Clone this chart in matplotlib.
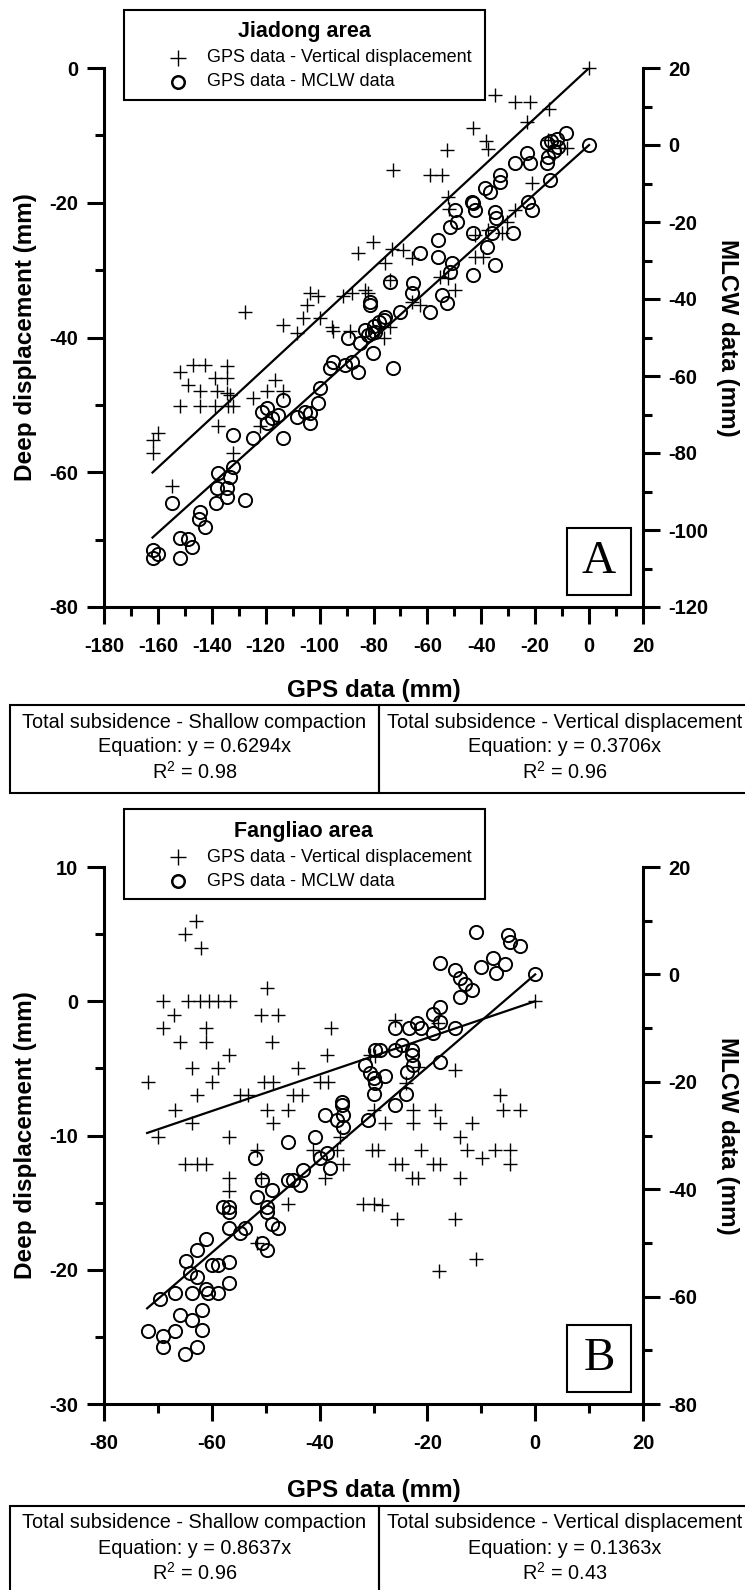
import matplotlib
matplotlib.use('Agg')
import matplotlib.pyplot as plt
from matplotlib.patches import Rectangle
from matplotlib.lines import Line2D
from matplotlib.ticker import MultipleLocator

plt.rcParams['font.family'] = ['Liberation Sans', 'DejaVu Sans']
plt.rcParams['mathtext.fontset'] = 'custom'
plt.rcParams['mathtext.rm'] = 'Liberation Sans'
plt.rcParams['mathtext.default'] = 'regular'
plt.rcParams['axes.unicode_minus'] = False

#########################################################
# Jiadong area

jd_vert_x = [0, -34.9, -27.5, -21.9, -14.8, -23.2, -43.0, -38.3, -37.6, -52.6,
             -72.9, -59.0, -54.7, -52.2, -51.9, -21.3, -15.1, -10.8, -8.3, -27.5,
             -30.6, -32.5, -37.4, -42.3, -42.3, -39.3, -80.1, -73.3, -68.9, -85.6,
             -65.8, -75.7, -55.3, -52.2, -49.8, -83.2, -81.9, -65.8, -62.7, -73.9,
             -103.6, -100.5, -88.1, -91.2, -73.9, -76.0,
             -127.7, -104.8, -106.0, -113.5, -108.5, -99.9, -95.5, -94.9, -88.7,
             -151.8, -146.9, -142.5, -148.7, -144.4, -151.8, -144.4, -138.8, -134.5,
             -134.5, -138.2, -134.5, -133.2, -138.8, -133.9, -132.0, -137.6, -124.6,
             -119.6, -116.6, -113.5, -122.1, -159.9, -161.7, -161.7, -154.9, -132.0]
jd_vert_y = [0, -4.0, -5.0, -5.0, -6.1, -8.0, -8.9, -10.9, -12.0, -12.2,
             -15.1, -15.9, -15.9, -19.1, -21.0, -17.1, -10.7, -11.9, -11.9, -21.1,
             -22.8, -24.5, -24.0, -24.8, -28.0, -28.0, -25.8, -26.8, -27.0, -27.5,
             -28.2, -29.0, -31.0, -31.2, -32.9, -32.9, -33.4, -34.7, -35.2, -31.5,
             -33.4, -33.9, -33.4, -33.9, -38.4, -40.0,
             -36.2, -35.2, -37.1, -38.1, -39.4, -37.1, -38.4, -39.1, -39.1,
             -45.1, -44.1, -44.1, -47.0, -48.0, -50.1, -50.1, -46.0, -44.3,
             -46.0, -48.0, -48.3, -48.5, -50.1, -50.1, -50.1, -53.1, -49.0,
             -48.0, -46.3, -48.0, -53.2, -54.2, -55.2, -57.2, -62.1, -57.2]

jd_mclw_x = [0, -8.6, -12.0, -15.8, -11.4, -14.0, -13.0, -15.1, -15.8, -14.5,
             -23.2, -27.5, -21.9, -33.1, -33.1, -38.6, -36.8, -43.6, -42.3, -34.9,
             -34.5, -49.8, -49.2, -51.6, -56.0, -43.0, -36.2, -38.0, -28.1, -22.5,
             -21.3, -62.7, -56.0, -51.0, -51.6, -34.9, -43.0, -73.9, -65.2, -65.8,
             -54.7, -52.9, -59.0, -70.2, -81.3, -75.7, -43.0,
             -80.1, -72.7, -83.0, -80.0, -78.0, -76.0,
             -161.7, -159.9, -161.7, -151.8, -151.8, -148.7, -147.5, -144.4, -144.6,
             -142.5, -154.9, -138.5, -138.2, -137.6, -134.5, -134.5, -133.2, -132.0,
             -127.7, -132.0, -124.6, -121.5, -119.6, -119.6, -117.8, -115.3, -113.5,
             -113.5, -108.5, -105.4, -103.6, -103.6, -100.5, -99.9, -96.1, -94.9,
             -90.6, -88.1, -85.6, -89.4, -85.0, -81.9, -80.7, -79.4, -81.3]
jd_mclw_y = [0, 3.0, 1.5, 0.4, -0.4, 1.0, -1.5, -3.0, -4.8, -9.1,
             -2.2, -4.8, -4.8, -7.8, -9.5, -11.2, -12.1, -14.7, -16.9, -17.3,
             -19.0, -16.9, -19.9, -21.2, -24.7, -22.9, -22.9, -26.4, -22.9, -14.7,
             -16.9, -28.1, -29.0, -30.7, -32.9, -31.2, -33.8, -35.5, -35.9, -38.5,
             -39.0, -41.1, -43.3, -43.3, -40.7, -44.6, -15.1,
             -54.1, -58.0, -48.0, -47.0, -46.0, -45.5,
             -105.2, -106.2, -107.4, -107.4, -102.2, -102.4, -104.3, -95.2, -97.2,
             -99.1, -93.1, -93.1, -89.2, -85.3, -89.2, -91.3, -86.2, -83.6,
             -92.2, -75.3, -76.2, -69.3, -68.4, -72.3, -71.0, -70.1, -66.2,
             -76.2, -70.6, -69.3, -69.7, -72.3, -67.1, -63.2, -58.0, -56.3,
             -57.1, -56.3, -58.9, -50.2, -51.5, -49.4, -48.9, -48.5, -41.6]

jd_slope_shallow = 0.6294
jd_slope_vert = 0.3706
jd_r2_shallow = 0.98
jd_r2_vert = 0.96
jd_fit_x = [-162, 0]

#########################################################
# Fangliao area

fl_vert_x = [-63, -65, -62, -69, -64.4, -62.2, -60.6, -58.8, -56.6, -67.1,
             -69, -65.9, -61, -61, -56.9, -63.7, -58.8, -60, -71.8, -49.8,
             -50.8, -47.7, -48.9, -37.8, -38.7, -44, -50.4, -48.6, -39.9, -38.4,
             -62.8, -54.8, -53.2, -44.9, -43.3, -30.6, -66.8, -63.7, -69.9, -56.9,
             -65, -62.8, -61, -49.8, -45.8, -48.6, -51.7, -56.9, -56.9, -50.8,
             -45.8, -51.7, -36.2, -36.8, -41.2, -35.6, -39, -30.3, -29.1, -31.9,
             -30, -30, -22.6, -18.6, -5.9, -2.8, -27.9, -22.6, -17.7, -11.8,
             -14, -21.1, -12.7, -7.5, -4.7, -26, -24.8, -18.9, -17.7, -9.9,
             -4.7, -22.9, -21.7, -14, -28.5, -25.7, -14.9, -10.9, -17.8, 0,
             -26, -14.9, -6.5, -29.7, -23.9, -21.7, -18]
fl_vert_y = [6, 5, 4, 0, 0, 0, 0, 0, 0, -1,
             -2, -3, -2, -3, -4, -5, -5, -6, -6, 1,
             -1, -1, -3, -2, -4, -5, -6, -6, -6, -6,
             -7, -7, -7, -7, -7, -4, -8.1, -9.1, -10.1, -10.1,
             -12.1, -12.1, -12.1, -8.1, -8.1, -9.1, -11.1, -13.2, -14.1, -13.2,
             -15.1, -18, -10.1, -11.1, -11.1, -12.1, -13.2, -11.1, -11.1, -15.1,
             -15.1, -8.1, -8.1, -8.1, -8.1, -8.1, -9.1, -9.1, -9.1, -9.1,
             -10.1, -11.1, -11.1, -11.1, -11.1, -12.1, -12.1, -12.1, -12.1, -11.7,
             -12.1, -13.2, -13.2, -13.2, -15.2, -16.2, -16.2, -19.2, -20.1, 0,
             -1.4, -5.1, -7.0, -4.1, -6.1, -4.9, -1.6]

fl_mclw_x = [-10.9, -5, -4.7, -2.8, -7.8, -5.6, -10, -7.2, -17.7, -14.9,
             -14, -13, -11.8, -14, 0, -17.7, -18.9, -17.7, -18.9, -14.9,
             -22, -21.1, -23.5, -26, -24.8, -26, -28.8, -22.9, -22.9, -22.6,
             -23.8, -17.7, -31.6, -30, -27.9, -30, -23.9, -26, -29.7, -30.6,
             -29.7, -35.9, -71.8, -69, -69, -66.8, -65, -62.8, -65.9, -63.7,
             -61.9, -69.7, -66.8, -63.7, -64.7, -62.8, -61, -64, -62.8, -61,
             -60.7, -61.9, -58.8, -60, -58.8, -56.9, -56.9, -57.9, -56.9, -56.9,
             -56.9, -54.8, -53.8, -52, -50.7, -51.7, -48.9, -49.8, -49.8, -48.9,
             -47.7, -50.7, -49.8, -45.8, -45.8, -44.9, -43.6, -43, -40.9, -39.9,
             -38.7, -39, -38.1, -36.8, -35.6, -35.6, -35.9, -31]
fl_mclw_y = [7.95, 7.3, 6.1, 5.2, 3.0, 2.0, 1.4, 0.2, 2.1, 0.8,
             -0.7, -1.7, -2.9, -4.2, 0, -6.0, -7.3, -8.8, -11.0, -10.0,
             -9.1, -10.0, -10.0, -10.0, -13.1, -14.1, -14.1, -14.1, -15.0, -16.9,
             -18.1, -16.3, -16.9, -19.3, -19.0, -22.2, -22.2, -24.3, -14.1, -18.4,
             -20.3, -23.7, -66.4, -67.3, -69.3, -66.4, -70.6, -69.3, -63.4, -64.4,
             -66.2, -60.4, -59.4, -59.4, -53.4, -51.3, -49.3, -55.6, -56.3, -58.5,
             -59.4, -62.5, -59.4, -54.2, -54.2, -53.5, -57.4, -43.3, -43.3, -44.2,
             -47.3, -48.2, -47.3, -34.2, -38.3, -41.4, -40.1, -43.3, -44.2, -46.4,
             -47.3, -50.1, -51.3, -31.2, -38.3, -38.3, -39.3, -36.4, -30.2, -34.2,
             -33.3, -26.2, -36.1, -27.1, -26.2, -28.4, -24.3, -27.1]

fl_slope_shallow = 0.8637
fl_slope_vert = 0.1363
fl_r2_shallow = 0.96
fl_r2_vert = 0.43
fl_fit_x = [-72, 0]

#########################################################
# Layout helpers (pixel positions on a 745 x 1590 canvas)

W, H = 745, 1590
SPINE_W = 2.2


def fx(px):
    return px / W


def fy(py):
    return 1 - py / H


def style_axis(ax, side):
    for s in ['top', 'right', 'left', 'bottom']:
        ax.spines[s].set_visible(False)
    ax.spines[side].set_visible(True)
    ax.spines[side].set_linewidth(SPINE_W)
    if side == 'left':
        ax.spines['bottom'].set_visible(True)
        ax.spines['bottom'].set_linewidth(SPINE_W)
    ax.tick_params(which='major', direction='out', length=12.5, width=SPINE_W,
                   labelsize=14.5)
    ax.tick_params(which='minor', direction='out', length=6.5, width=SPINE_W)
    ax.tick_params(axis='x', pad=9)
    ax.tick_params(axis='y', pad=6)
    for lab in ax.get_xticklabels() + ax.get_yticklabels():
        lab.set_fontweight('bold')


def plot_panel(fig, top, bottom, xlim, xmajor, ylim, ymajor, ylim2, ymajor2,
               vert_x, vert_y, mclw_x, mclw_y, slope_vert, slope_shallow, fit_x,
               area, letter, r2_shallow, r2_vert, xlabel_y, table_top):
    left, right = 104, 643
    ax = fig.add_axes([fx(left), fy(bottom), (right - left) / W, (bottom - top) / H])
    ax2 = ax.twinx()
    ax.set_xlim(*xlim)
    ax.set_ylim(*ylim)
    ax2.set_ylim(*ylim2)
    ax.xaxis.set_major_locator(MultipleLocator(xmajor))
    ax.xaxis.set_minor_locator(MultipleLocator(xmajor / 2))
    ax.yaxis.set_major_locator(MultipleLocator(ymajor))
    ax.yaxis.set_minor_locator(MultipleLocator(ymajor / 2))
    ax2.yaxis.set_major_locator(MultipleLocator(ymajor2))
    ax2.yaxis.set_minor_locator(MultipleLocator(ymajor2 / 2))
    ax.set_facecolor('none')
    style_axis(ax, 'left')
    style_axis(ax2, 'right')

    ax.plot(vert_x, vert_y, linestyle='none', marker='+', ms=9.5, mew=1.0,
            color='black', clip_on=False, zorder=3)
    ax2.plot(mclw_x, mclw_y, linestyle='none', marker='o', ms=9.5, mew=1.4,
             mfc='none', mec='black', clip_on=False, zorder=3)
    ax.plot(fit_x, [slope_vert * v for v in fit_x], color='black', lw=1.6, zorder=2)
    ax2.plot(fit_x, [slope_shallow * v for v in fit_x], color='black', lw=1.6, zorder=2)

    ax.set_xlabel('GPS data (mm)', fontsize=17.5, fontweight='bold', va='center')
    ax.xaxis.set_label_coords(0.5, -(xlabel_y - bottom) / (bottom - top))
    ax.set_ylabel('Deep displacement (mm)', fontsize=17.5, fontweight='bold')
    ax.yaxis.set_label_coords(-(left - 37) / (right - left), 0.5)
    ax2.set_ylabel('MLCW data (mm)', fontsize=17.5, fontweight='bold',
                   rotation=-90, va='bottom')
    ax2.yaxis.set_label_coords((716 - left) / (right - left), 0.5)

    # legend block above the plot
    lt = top - 58
    fig.add_artist(Rectangle((fx(124), fy(lt + 90)), (485 - 124) / W, 90 / H,
                             transform=fig.transFigure, fc='white', ec='black', lw=1.5))
    fig.text(fx(304), fy(lt + 22), area, fontsize=15.5, fontweight='bold',
             ha='center', va='center')
    fig.add_artist(Line2D([fx(178)], [fy(lt + 48)], marker='+', ms=11, mew=1.0,
                          color='black', transform=fig.transFigure))
    fig.add_artist(Line2D([fx(178)], [fy(lt + 72)], marker='o', ms=9, mew=1.8,
                          mfc='none', mec='black', transform=fig.transFigure))
    fig.text(fx(207), fy(lt + 48), 'GPS data - Vertical displacement', fontsize=13,
             ha='left', va='center')
    fig.text(fx(207), fy(lt + 72), 'GPS data - MCLW data', fontsize=13,
             ha='left', va='center')

    # panel letter
    fig.add_artist(Rectangle((fx(567), fy(bottom - 12)), 64 / W, 67 / H,
                             transform=fig.transFigure, fc='white', ec='black', lw=1.5))
    fig.text(fx(599), fy(bottom - 45), letter, fontsize=34, family='Liberation Serif',
             ha='center', va='center')

    # regression summary table
    cells = [(9.5, 379, 'Total subsidence - Shallow compaction', slope_shallow, r2_shallow),
             (379, 752, 'Total subsidence - Vertical displacement', slope_vert, r2_vert)]
    for x0, x1, head, slope, r2 in cells:
        fig.add_artist(Rectangle((fx(x0), fy(table_top + 88)), (x1 - x0) / W, 88 / H,
                                 transform=fig.transFigure, fc='none', ec='black', lw=1.5))
        cx = (x0 + x1) / 2 if x1 < W else 565
        fig.text(fx(cx), fy(table_top + 17), head, fontsize=14.3, ha='center', va='center')
        fig.text(fx(cx), fy(table_top + 42), 'Equation: y = %.4fx' % slope, fontsize=14.3,
                 ha='center', va='center')
        fig.text(fx(cx), fy(table_top + 67), 'R$^{2}$ = %.2f' % r2, fontsize=14.3,
                 ha='center', va='center')
    return ax, ax2


fig = plt.figure(figsize=(W / 100, H / 100), dpi=100)

plot_panel(fig, 68, 607, (-180, 20), 20, (-80, 0), 20, (-120, 20), 20,
           jd_vert_x, jd_vert_y, jd_mclw_x, jd_mclw_y, jd_slope_vert, jd_slope_shallow,
           jd_fit_x, 'Jiadong area', 'A', jd_r2_shallow, jd_r2_vert, 690, 705)

plot_panel(fig, 867, 1404, (-80, 20), 20, (-30, 10), 10, (-80, 20), 20,
           fl_vert_x, fl_vert_y, fl_mclw_x, fl_mclw_y, fl_slope_vert, fl_slope_shallow,
           fl_fit_x, 'Fangliao area', 'B', fl_r2_shallow, fl_r2_vert, 1490, 1506)

fig.savefig('out.png', dpi=100)
